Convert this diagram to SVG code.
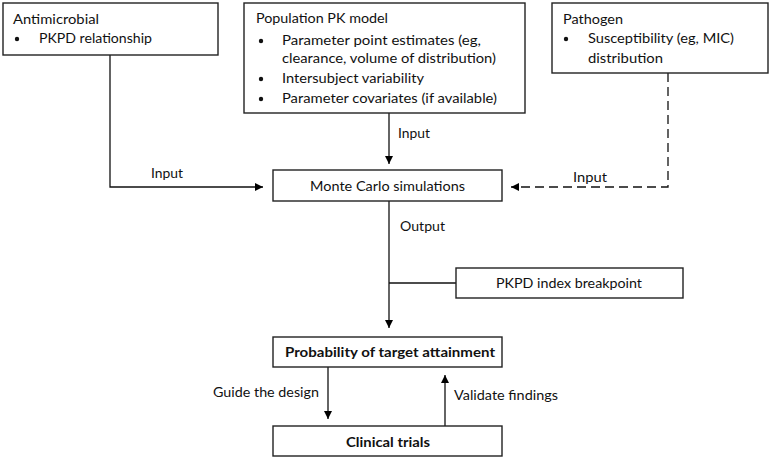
<svg xmlns="http://www.w3.org/2000/svg" width="771" height="460" viewBox="0 0 771 460">
<defs>
<marker id="ah" viewBox="0 0 10 10" refX="10" refY="5" markerWidth="9" markerHeight="8" markerUnits="userSpaceOnUse" orient="auto">
<path d="M0,0 L10,5 L0,10 Z" fill="#000"/>
</marker>
</defs>
<style>
.box{fill:#fff;stroke:#222;stroke-width:1.4}
.t{font-family:Lato,"Open Sans","Liberation Sans",sans-serif;font-size:14px;fill:#111}
.b{font-weight:bold}
.ln{fill:none;stroke:#111;stroke-width:1.3}
.dash{stroke-dasharray:9,5}
.m{text-anchor:middle}
</style>
<rect width="771" height="460" fill="#fff"/>
<g id="connectors">
<polyline class="ln" points="110,55 110,187 263,187" marker-end="url(#ah)"/>
<line class="ln" x1="389" y1="113" x2="389" y2="164" marker-end="url(#ah)"/>
<polyline class="ln dash" points="668,73 668,187 511,187" marker-end="url(#ah)"/>
<line class="ln" x1="389" y1="201" x2="389" y2="328" marker-end="url(#ah)"/>
<line class="ln" x1="389" y1="283" x2="456" y2="283"/>
<line class="ln" x1="328" y1="367" x2="328" y2="419" marker-end="url(#ah)"/>
<line class="ln" x1="445" y1="426" x2="445" y2="375" marker-end="url(#ah)"/>
<text class="t" x="151" y="178" textLength="32" lengthAdjust="spacingAndGlyphs">Input</text>
<text class="t" x="398" y="138" textLength="32" lengthAdjust="spacingAndGlyphs">Input</text>
<text class="t" x="573" y="182" textLength="34" lengthAdjust="spacingAndGlyphs">Input</text>
<text class="t" x="400" y="231" textLength="45" lengthAdjust="spacingAndGlyphs">Output</text>
<text class="t" x="213" y="397" textLength="106" lengthAdjust="spacingAndGlyphs">Guide the design</text>
<text class="t" x="454" y="400" textLength="104" lengthAdjust="spacingAndGlyphs">Validate findings</text>
</g>
<g id="antimicrobial">
<rect class="box" x="3" y="3" width="215" height="52"/>
<text class="t" x="13" y="24" textLength="86" lengthAdjust="spacingAndGlyphs">Antimicrobial</text>
<circle cx="17" cy="39" r="2.2" fill="#111"/>
<text class="t" x="39" y="43" textLength="113" lengthAdjust="spacingAndGlyphs">PKPD relationship</text>
</g>
<g id="popPK">
<rect class="box" x="244" y="3" width="281" height="110"/>
<text class="t" x="256" y="23" textLength="132" lengthAdjust="spacingAndGlyphs">Population PK model</text>
<circle cx="261" cy="41" r="2.2" fill="#111"/>
<text class="t" x="282" y="45" textLength="199" lengthAdjust="spacingAndGlyphs">Parameter point estimates (eg,</text>
<text class="t" x="282" y="63" textLength="214" lengthAdjust="spacingAndGlyphs">clearance, volume of distribution)</text>
<circle cx="261" cy="79" r="2.2" fill="#111"/>
<text class="t" x="282" y="83" textLength="142" lengthAdjust="spacingAndGlyphs">Intersubject variability</text>
<circle cx="261" cy="99" r="2.2" fill="#111"/>
<text class="t" x="282" y="103" textLength="215" lengthAdjust="spacingAndGlyphs">Parameter covariates (if available)</text>
</g>
<g id="pathogen">
<rect class="box" x="552" y="3" width="216" height="70"/>
<text class="t" x="563" y="24" textLength="60" lengthAdjust="spacingAndGlyphs">Pathogen</text>
<circle cx="566" cy="39" r="2.2" fill="#111"/>
<text class="t" x="588" y="43" textLength="146" lengthAdjust="spacingAndGlyphs">Susceptibility (eg, MIC)</text>
<text class="t" x="588" y="63" textLength="75" lengthAdjust="spacingAndGlyphs">distribution</text>
</g>
<g id="montecarlo">
<rect class="box" x="273" y="170" width="229" height="31"/>
<text class="t" x="310" y="191" textLength="155" lengthAdjust="spacingAndGlyphs">Monte Carlo simulations</text>
</g>
<g id="breakpoint">
<rect class="box" x="456" y="268" width="227" height="30"/>
<text class="t" x="496" y="288" textLength="146" lengthAdjust="spacingAndGlyphs">PKPD index breakpoint</text>
</g>
<g id="pta">
<rect class="box" x="273" y="337" width="229" height="30"/>
<text class="t b" x="285" y="357" textLength="210" lengthAdjust="spacingAndGlyphs">Probability of target attainment</text>
</g>
<g id="clinical">
<rect class="box" x="273" y="426" width="229" height="30"/>
<text class="t b" x="346" y="447" textLength="84" lengthAdjust="spacingAndGlyphs">Clinical trials</text>
</g>
</svg>
